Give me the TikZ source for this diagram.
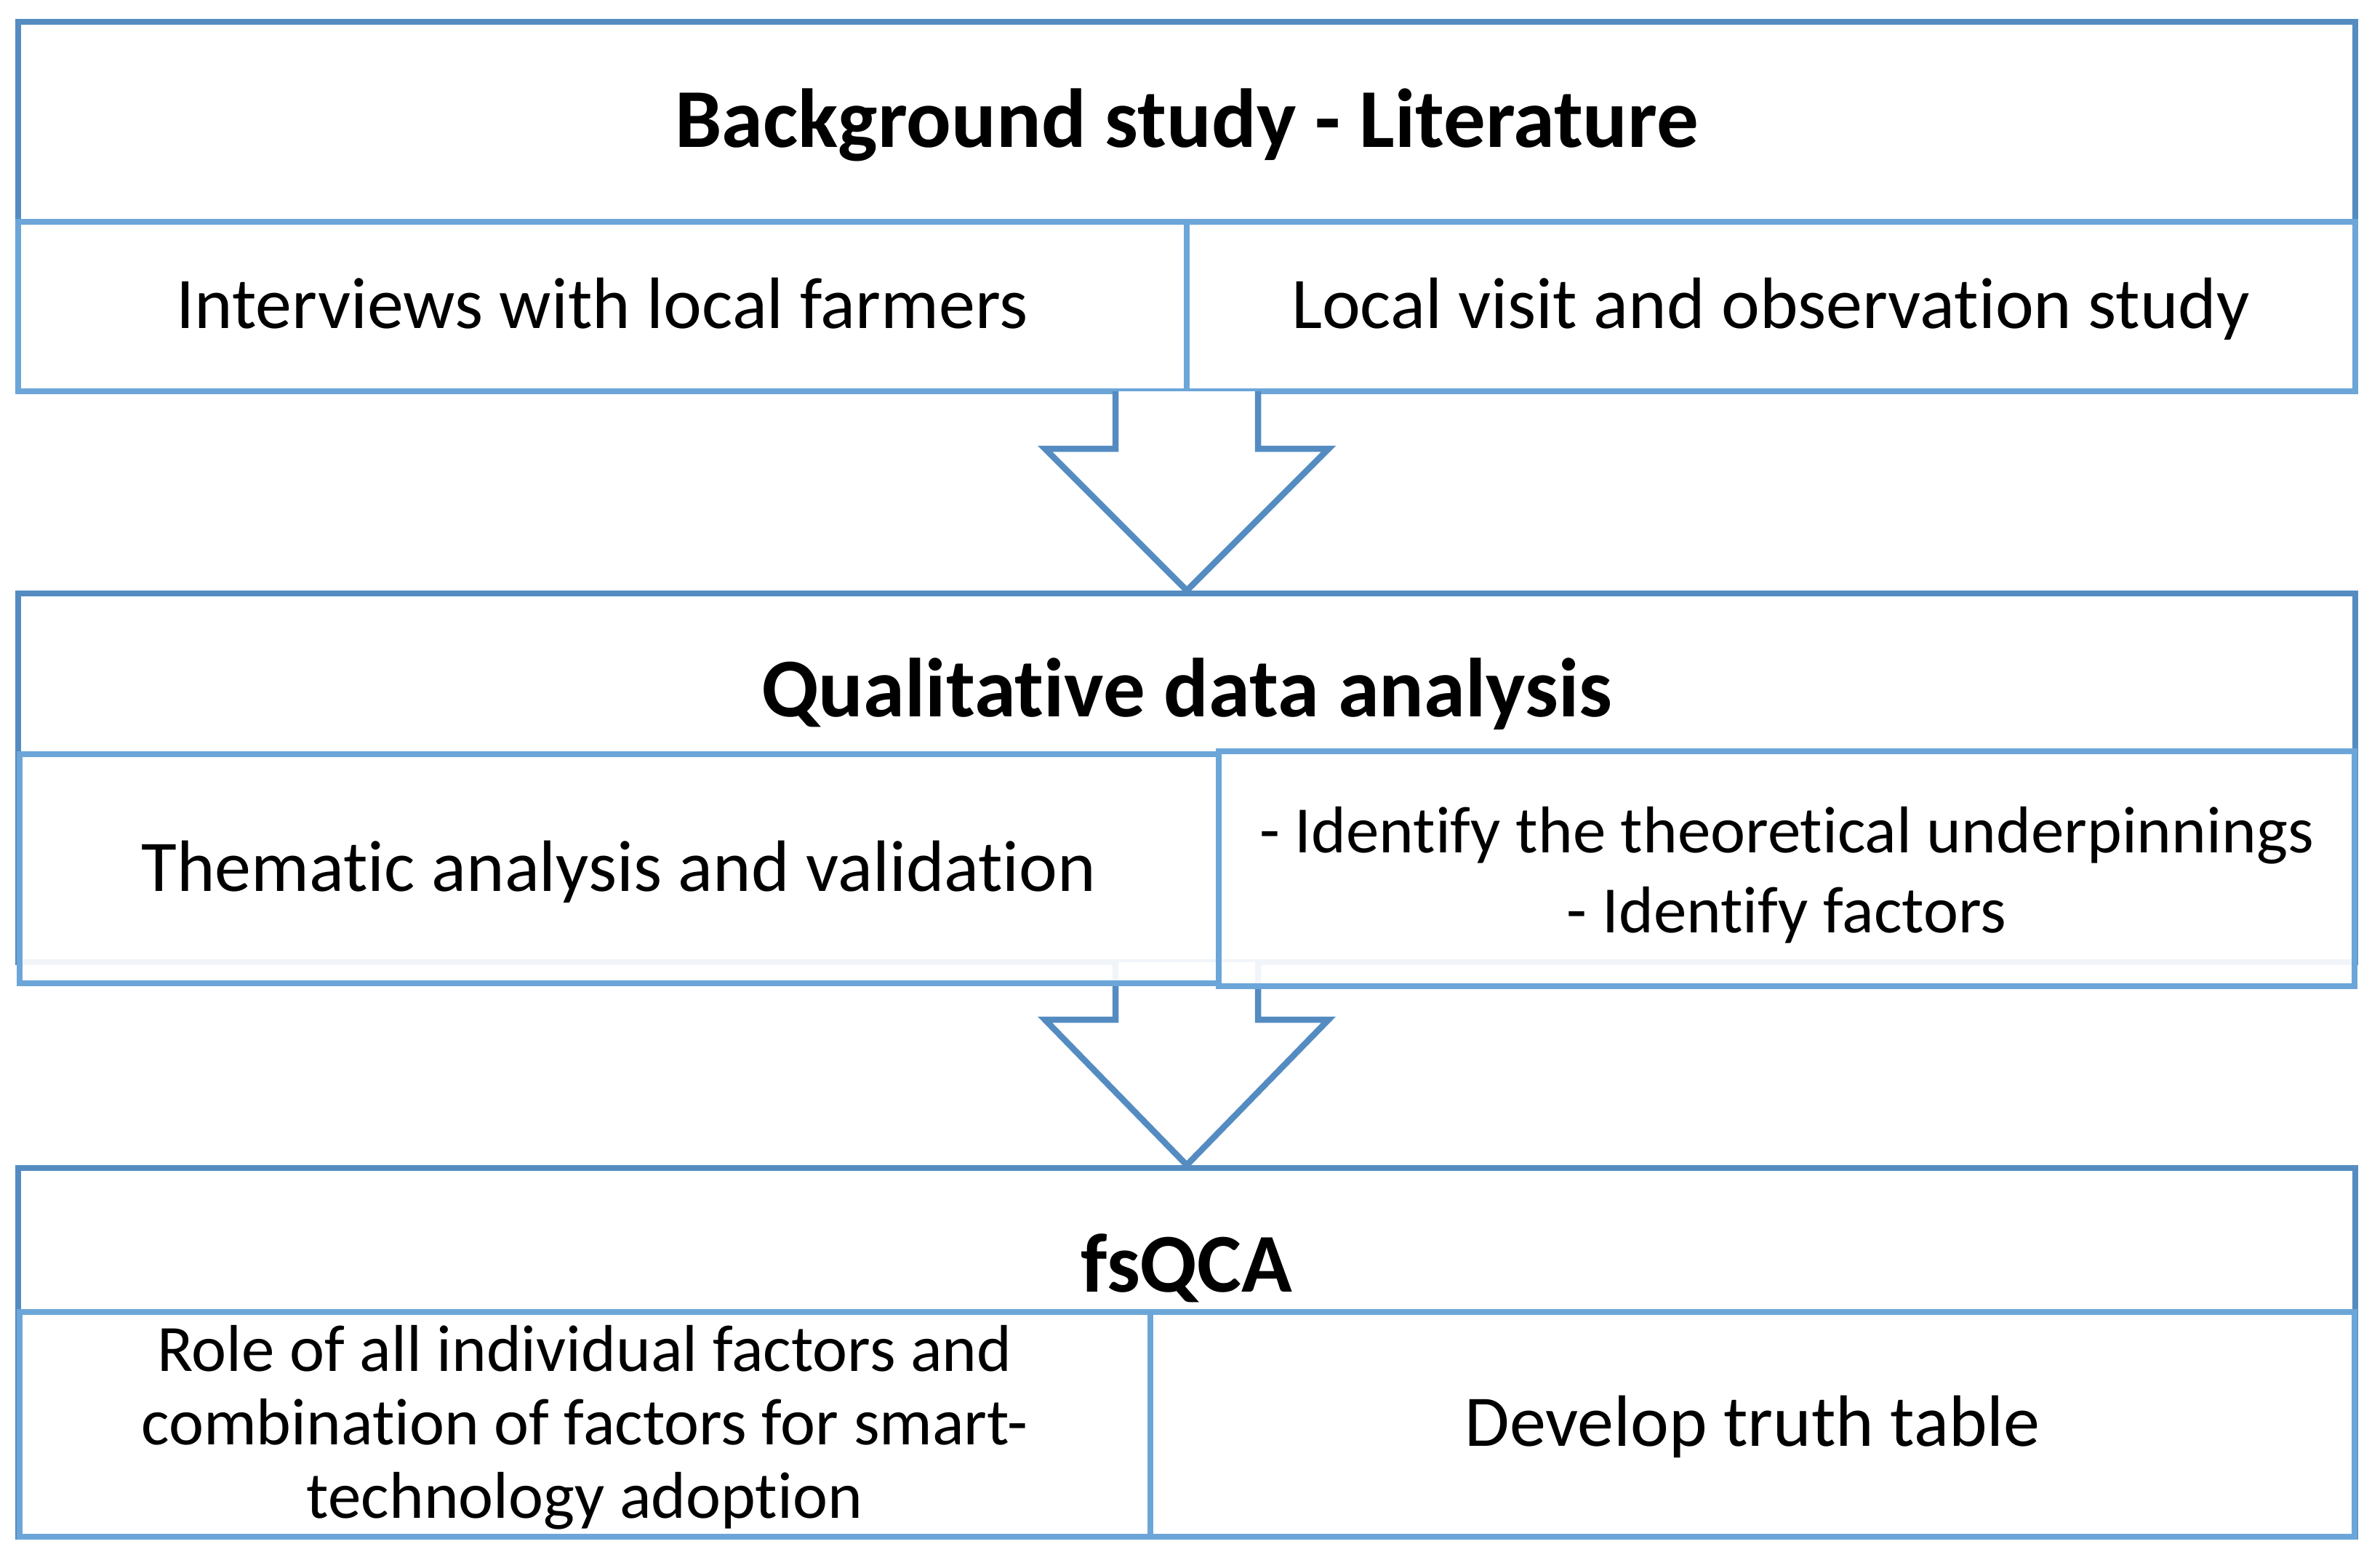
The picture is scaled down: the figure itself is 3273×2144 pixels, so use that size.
\documentclass[tikz,border=0pt]{standalone}
\usepackage{fontspec}
\setmainfont{Carlito}[Ligatures=NoCommon]
\definecolor{dk}{RGB}{84,140,194}
\definecolor{lt}{RGB}{108,166,217}
\begin{document}
\begin{tikzpicture}[x=1pt,y=-1pt,line join=miter,
  outerbox/.style={draw=dk,line width=8.5pt,fill=white,inner sep=0pt,outer sep=0pt,anchor=north west},
  subbox/.style={draw=lt,line width=8.5pt,fill=white,fill opacity=0.92,inner sep=0pt,outer sep=0pt,anchor=north west},
  blockarrow/.style={draw=dk,fill=white,line width=8.5pt},
  title/.style={anchor=base,inner sep=0pt,font=\fontsize{115}{128}\selectfont\bfseries},
  body/.style={anchor=base,inner sep=0pt,align=center,font=\fontsize{100}{110}\selectfont},
  small/.style={anchor=base,inner sep=0pt,align=center,font=\fontsize{91}{110}\selectfont},
  smaller/.style={anchor=base,inner sep=0pt,align=center,font=\fontsize{91}{101}\selectfont}]
\useasboundingbox (0,0) rectangle (3273,2144);
\fill[white] (0,0) rectangle (3273,2144);

% section 1
\node[outerbox,minimum width=3214pt,minimum height=508pt] (s1) at (25,30) {};
\node[subbox,minimum width=1607pt,minimum height=233pt] (s1a) at (25,305) {};
\node[subbox,minimum width=1607pt,minimum height=233pt] (s1b) at (1632,305) {};

% section 2 outer and arrow 1
\node[outerbox,minimum width=3214pt,minimum height=507pt] (s2) at (25,816) {};
\filldraw[blockarrow] ([xshift=-98pt]s1.south) -- ([xshift=-98pt,yshift=-79pt]s1.south)
  -- ([xshift=-195pt,yshift=-79pt]s1.south) -- ([yshift=4pt]s2.north)
  -- ([xshift=195pt,yshift=-79pt]s1.south) -- ([xshift=98pt,yshift=-79pt]s1.south)
  -- ([xshift=98pt]s1.south);

% section 3 outer and arrow 2
\node[outerbox,minimum width=3214pt,minimum height=507pt] (s3) at (25,1606) {};
\filldraw[blockarrow] ([xshift=-98pt]s2.south) -- ([xshift=-98pt,yshift=-79pt]s2.south)
  -- ([xshift=-195pt,yshift=-79pt]s2.south) -- ([yshift=4pt]s3.north)
  -- ([xshift=195pt,yshift=-79pt]s2.south) -- ([xshift=98pt,yshift=-79pt]s2.south)
  -- ([xshift=98pt]s2.south);

% section 2 sub boxes
\node[subbox,minimum width=1649pt,minimum height=315pt] (s2a) at (27,1037) {};
\node[subbox,minimum width=1562pt,minimum height=323pt] (s2b) at (1676,1033) {};

% section 3 sub boxes
\node[subbox,minimum width=1555pt,minimum height=309pt] (s3a) at (27,1804) {};
\node[subbox,minimum width=1656pt,minimum height=309pt] (s3b) at (1582,1804) {};

% texts
\node[title] (t1) at (1632,202) {Background study - Literature};
\node[body] (t1a) at (828,451) {Interviews with local farmers};
\node[body] (t1b) at (2435,451) {Local visit and observation study};
\node[title] (t2) at (1632,985) {Qualitative data analysis};
\node[body] (t2a) at (851,1225) {Thematic analysis and validation};
\node[small] (t2b) at (2457,1282) {- Identify the theoretical underpinnings\\- Identify factors};
\node[title] (t3) at (1632,1776) {fsQCA};
\node[smaller] (t3a) at (804,2087) {Role of all individual factors and\\combination of factors for smart-\\technology adoption};
\node[body] (t3b) at (2410,1988) {Develop truth table};
\end{tikzpicture}
\end{document}
